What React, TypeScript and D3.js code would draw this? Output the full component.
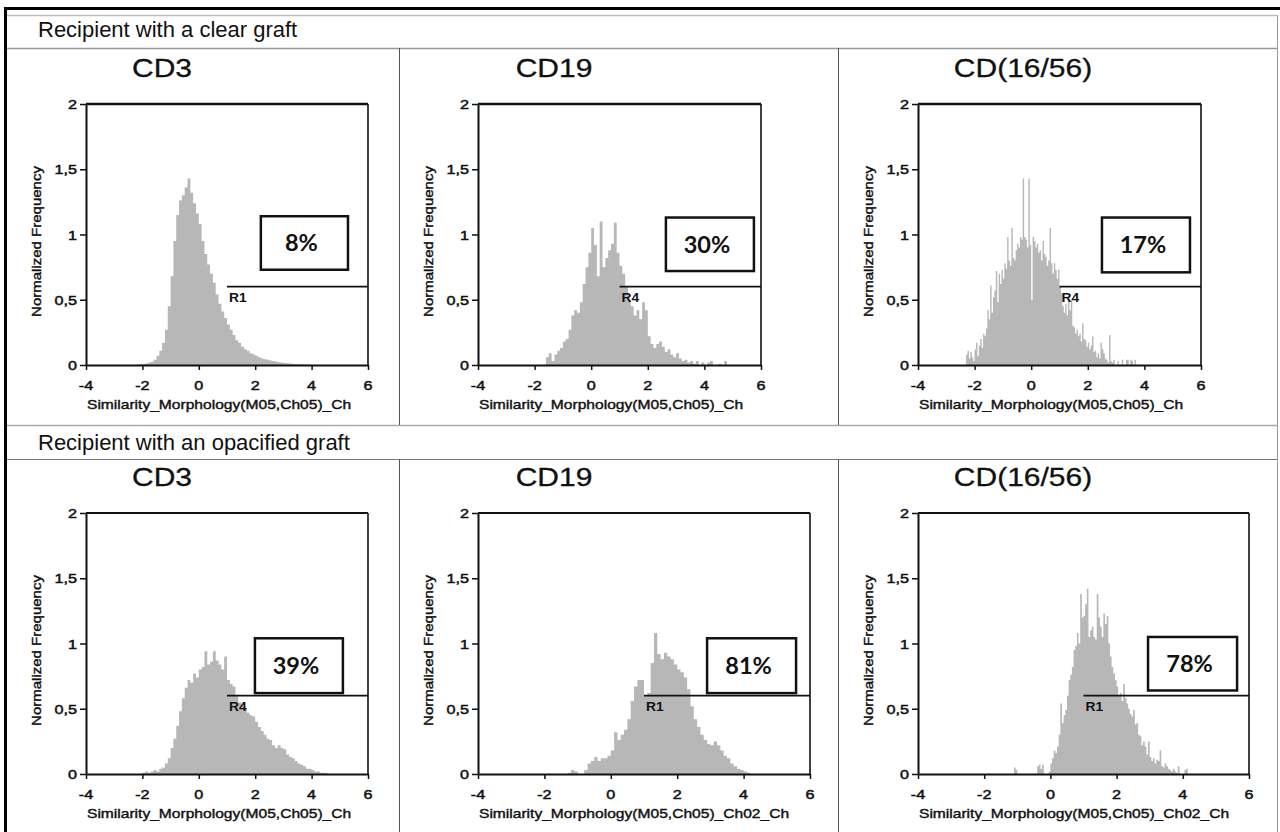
import { useEffect, useRef } from 'react'
import * as d3 from 'd3'

// normalized frequency per bin
const clearCd3Start = -2.2
const clearCd3Bin = 0.1
const clearCd3 = [0.003, 0.005, 0.008, 0.012, 0.018, 0.025, 0.04, 0.07, 0.11, 0.17, 0.27, 0.45, 0.68, 0.95, 1.15, 1.26, 1.3, 1.36, 1.43, 1.32, 1.24, 1.16, 1.08, 0.95, 0.85, 0.77, 0.7, 0.63, 0.54, 0.47, 0.41, 0.36, 0.31, 0.27, 0.23, 0.19, 0.17, 0.14, 0.12, 0.11, 0.09, 0.08, 0.07, 0.06, 0.05, 0.045, 0.04, 0.035, 0.03, 0.026, 0.022, 0.019, 0.016, 0.013, 0.011, 0.009, 0.007, 0.006, 0.005, 0.004, 0.003, 0.002, 0.002]

const clearCd19Start = -1.7
const clearCd19Bin = 0.1
const clearCd19 = [0, 0.06, 0.09, 0.03, 0.08, 0.11, 0.13, 0.18, 0.2, 0.27, 0.38, 0.42, 0.4, 0.48, 0.62, 0.75, 0.86, 1.05, 0.92, 0.68, 1.1, 0.75, 0.82, 0.88, 0.93, 1.09, 0.86, 0.76, 0.7, 0.6, 0.5, 0.45, 0.38, 0.42, 0.35, 0.48, 0.42, 0.22, 0.16, 0.13, 0.16, 0.18, 0.14, 0.1, 0.12, 0.08, 0.06, 0.09, 0.05, 0.03, 0.04, 0.02, 0.03, 0.01, 0.03, 0, 0.02, 0, 0.02, 0.03, 0, 0, 0.01, 0, 0.03]

const clearCd16Start = -2.3
const clearCd16Bin = 0.05
const clearCd16 = [0.08, 0.11, 0.05, 0.1, 0.06, 0.03, 0.12, 0.17, 0.07, 0.15, 0.2, 0.13, 0.24, 0.22, 0.28, 0.42, 0.35, 0.61, 0.4, 0.52, 0.57, 0.72, 0.48, 0.7, 0.62, 0.73, 0.66, 0.78, 0.74, 0.98, 0.8, 0.76, 1.05, 0.82, 0.8, 0.88, 0.93, 0.9, 0.98, 0.96, 1.43, 0.98, 0.96, 0.9, 1.43, 0.92, 0.5, 0.98, 0.95, 0.9, 0.93, 0.86, 0.88, 0.8, 0.95, 0.85, 0.83, 0.76, 0.8, 1.05, 0.78, 0.7, 0.78, 0.73, 0.66, 0.73, 0.6, 0.55, 0.45, 0.4, 0.47, 0.38, 0.5, 0.42, 0.5, 0.3, 0.29, 0.24, 0.27, 0.22, 0.24, 0.18, 0.32, 0.2, 0.19, 0.14, 0.17, 0.12, 0.15, 0.22, 0.1, 0.11, 0.06, 0.09, 0.05, 0.17, 0.12, 0.09, 0.05, 0.04, 0.02, 0.23, 0.03, 0.02, 0.04, 0, 0, 0.03, 0, 0, 0.04, 0, 0, 0.04, 0.04, 0, 0.04, 0.03, 0, 0.04, 0, 0]

const opaqueCd3Start = -2.0
const opaqueCd3Bin = 0.1
const opaqueCd3 = [0.01, 0.02, 0.01, 0.02, 0.03, 0.02, 0.04, 0.05, 0.08, 0.12, 0.2, 0.27, 0.37, 0.48, 0.58, 0.66, 0.72, 0.7, 0.77, 0.74, 0.8, 0.82, 0.94, 0.84, 0.86, 0.94, 0.87, 0.84, 0.8, 0.9, 0.72, 0.69, 0.67, 0.6, 0.55, 0.53, 0.5, 0.47, 0.45, 0.44, 0.4, 0.36, 0.33, 0.3, 0.27, 0.26, 0.22, 0.2, 0.22, 0.2, 0.19, 0.15, 0.13, 0.12, 0.1, 0.08, 0.07, 0.06, 0.04, 0.04, 0.03, 0.02, 0.02, 0.01, 0.01, 0.005]

const opaqueCd19Start = -1.3
const opaqueCd19Bin = 0.1
const opaqueCd19 = [0.01, 0.03, 0.02, 0, 0, 0.03, 0.08, 0.1, 0.13, 0.1, 0.12, 0.12, 0.14, 0.18, 0.32, 0.26, 0.3, 0.34, 0.42, 0.56, 0.67, 0.72, 0.72, 0.6, 0.62, 0.85, 1.08, 0.92, 0.88, 0.93, 0.9, 0.88, 0.84, 0.8, 0.78, 0.74, 0.65, 0.52, 0.42, 0.36, 0.3, 0.26, 0.23, 0.22, 0.25, 0.22, 0.18, 0.14, 0.12, 0.08, 0.06, 0.04, 0.03, 0.02, 0.01]

const opaqueCd16Start = -1.1
const opaqueCd16Bin = 0.05
const opaqueCd16 = [0.05, 0.03, 0, 0, 0, 0, 0, 0, 0, 0, 0, 0, 0, 0, 0.06, 0.07, 0.04, 0.07, 0, 0, 0, 0.02, 0.08, 0.12, 0.18, 0.16, 0.21, 0.3, 0.54, 0.39, 0.45, 0.49, 0.6, 0.72, 0.76, 0.82, 0.95, 0.98, 1.08, 1.0, 1.38, 1.2, 1.21, 1.3, 1.42, 1.05, 1.1, 1.13, 1.05, 1.03, 1.38, 1.2, 1.13, 1.05, 1.23, 1.15, 1.21, 1.0, 0.9, 0.82, 0.77, 0.72, 0.67, 0.6, 0.62, 0.56, 0.69, 0.58, 0.54, 0.5, 0.46, 0.44, 0.49, 0.38, 0.39, 0.3, 0.29, 0.22, 0.25, 0.21, 0.15, 0.25, 0.13, 0.1, 0.12, 0.08, 0.11, 0.1, 0.18, 0.06, 0.05, 0.08, 0.06, 0.04, 0.03, 0.02, 0.04, 0.02, 0.01, 0.06, 0, 0, 0, 0.03, 0.04]

const rowTitles = ['Recipient with a clear graft', 'Recipient with an opacified graft']
const markers = ['CD3', 'CD19', 'CD(16/56)', 'CD3', 'CD19', 'CD(16/56)']
const percents = ['8%', '30%', '17%', '39%', '81%', '78%']
const gateNames = ['R1', 'R4', 'R4', 'R4', 'R1', 'R1']
const xLabels = [
  'Similarity_Morphology(M05,Ch05)_Ch',
  'Similarity_Morphology(M05,Ch05)_Ch',
  'Similarity_Morphology(M05,Ch05)_Ch',
  'Similarity_Morphology(M05,Ch05)_Ch',
  'Similarity_Morphology(M05,Ch05)_Ch02_Ch',
  'Similarity_Morphology(M05,Ch05)_Ch02_Ch',
]
const yLabel = 'Normalized Frequency'
const xTicks = [-4, -2, 0, 2, 4, 6]
const yTicks = [0, 0.5, 1, 1.5, 2]
const gate = { from: 1, to: 6, level: 0.6 }

const series = [
  { start: clearCd3Start, bin: clearCd3Bin, values: clearCd3 },
  { start: clearCd19Start, bin: clearCd19Bin, values: clearCd19 },
  { start: clearCd16Start, bin: clearCd16Bin, values: clearCd16 },
  { start: opaqueCd3Start, bin: opaqueCd3Bin, values: opaqueCd3 },
  { start: opaqueCd19Start, bin: opaqueCd19Bin, values: opaqueCd19 },
  { start: opaqueCd16Start, bin: opaqueCd16Bin, values: opaqueCd16 },
]

// layout (pixels) and annotation boxes (data units: x0, x1, y0, y1)
const COLS = [
  [[86, 368], [478, 761], [918, 1201]],
  [[86, 368], [478, 810], [918, 1249]],
]
const ROWS = [
  { top: 104, bottom: 365, titleY: 77, headerY: 37 },
  { top: 513, bottom: 774, titleY: 486, headerY: 450 },
]
const TITLE_X = [162, 554, 1023]
const BOXES = [
  [2.2, 5.29, 0.73, 1.14], [2.64, 5.75, 0.72, 1.13], [2.5, 5.61, 0.71, 1.13],
  [1.99, 5.11, 0.62, 1.04], [2.9, 5.58, 0.62, 1.04], [2.95, 5.64, 0.64, 1.05],
]

const SX = 1.2
const FONT = '"Liberation Sans", Arial, sans-serif'
const INK = '#111'

export default function App() {
  const svgRef = useRef<SVGSVGElement>(null)

  useEffect(() => {
    if (!svgRef.current) return
    const svg = d3.select(svgRef.current)
    svg.selectAll('*').remove()

    svg.append('rect').attr('width', 1280).attr('height', 832).attr('fill', '#fff')

    // table frame
    const frame = svg.append('g').attr('fill', 'none')
    const ln = (x1: number, y1: number, x2: number, y2: number, c: string, w: number) =>
      frame.append('line').attr('x1', x1).attr('y1', y1).attr('x2', x2).attr('y2', y2)
        .attr('stroke', c).attr('stroke-width', w)
    ln(7, 15.5, 1277, 15.5, '#bbb', 1.5)
    ln(1277.5, 15, 1277.5, 832, '#999', 1)
    ln(7, 48.5, 1277, 48.5, '#999', 1.5)
    ln(7, 425.5, 1277, 425.5, '#aaa', 1.5)
    ln(7, 459.5, 1277, 459.5, '#777', 1)
    ;[399.5, 838.5].forEach(x => {
      ln(x, 48, x, 425, '#555', 1)
      ln(x, 459, x, 832, '#555', 1)
    })
    ln(4, 8.5, 1280, 8.5, '#000', 3)
    ln(5.5, 7, 5.5, 832, '#000', 3)

    rowTitles.forEach((t, r) => {
      svg.append('text').attr('x', 38).attr('y', ROWS[r].headerY)
        .attr('font-family', FONT).attr('font-size', 22).attr('fill', INK).text(t)
    })

    const stretched = (g: any, x: number, y: number, str: string, size: number, anchor: string, extra = '') =>
      g.append('text')
        .attr('transform', `translate(${x},${y})${extra} scale(${SX},1)`)
        .attr('text-anchor', anchor)
        .attr('font-family', FONT).attr('font-size', size).attr('fill', INK)
        .text(str)

    series.forEach((s, i) => {
      const r = Math.floor(i / 3)
      const c = i % 3
      const [left, right] = COLS[r][c]
      const { top, bottom, titleY } = ROWS[r]
      const x = d3.scaleLinear().domain([-4, 6]).range([left, right])
      const y = d3.scaleLinear().domain([0, 2]).range([bottom, top])
      const g = svg.append('g')

      stretched(g, TITLE_X[c], titleY, markers[i], 25, 'middle')
        .attr('stroke', INK).attr('stroke-width', 0.3)

      const pts = s.values.map((v, k) => ({ x: s.start + k * s.bin, v }))
      pts.push({ x: s.start + s.values.length * s.bin, v: 0 })
      const area = d3.area<{ x: number; v: number }>()
        .x(d => x(d.x)).y0(y(0)).y1(d => y(d.v))
        .curve(d3.curveStepAfter)
      g.append('path').datum(pts).attr('d', area).attr('fill', '#b7b7b7')

      // frame top & right
      g.append('line').attr('x1', left).attr('x2', right).attr('y1', top).attr('y2', top)
        .attr('stroke', INK).attr('stroke-width', r === 0 ? 2.5 : 2)
      g.append('line').attr('x1', right).attr('x2', right).attr('y1', top).attr('y2', bottom)
        .attr('stroke', INK).attr('stroke-width', 1.6)

      g.append('g').attr('transform', `translate(${left},0)`)
        .call(d3.axisLeft(y).tickValues(yTicks).tickSize(6).tickSizeOuter(0).tickFormat(() => ''))
        .call(ax => {
          ax.select('.domain').attr('stroke', INK).attr('stroke-width', 2)
          ax.selectAll('line').attr('stroke', INK).attr('stroke-width', 1.5)
        })
      g.append('g').attr('transform', `translate(0,${bottom})`)
        .call(d3.axisBottom(x).tickValues(xTicks).tickSize(5).tickSizeOuter(0).tickFormat(() => ''))
        .call(ax => {
          ax.select('.domain').attr('stroke', INK).attr('stroke-width', 2)
          ax.selectAll('line').attr('stroke', INK).attr('stroke-width', 1.5)
        })

      yTicks.forEach(t => {
        stretched(g, left - 9, y(t) + 5, String(t).replace('.', ','), 13.5, 'end')
          .attr('stroke', INK).attr('stroke-width', 0.5)
      })
      xTicks.forEach(t => {
        stretched(g, x(t), bottom + 24.5, String(t), 13.5, 'middle')
          .attr('stroke', INK).attr('stroke-width', 0.5)
      })

      stretched(g, left - 45, (top + bottom) / 2 + 7, yLabel, 12.5, 'middle', ' rotate(-90)')
        .attr('stroke', INK).attr('stroke-width', 0.4)
      stretched(g, left + 1, bottom + 44, xLabels[i], 13, 'start')
        .attr('stroke', INK).attr('stroke-width', 0.4)

      // gate
      g.append('line').attr('x1', x(gate.from)).attr('x2', x(gate.to))
        .attr('y1', y(gate.level)).attr('y2', y(gate.level))
        .attr('stroke', INK).attr('stroke-width', 1.8)
      g.append('text')
        .attr('transform', `translate(${x(gate.from) + 2},${y(gate.level) + 15}) scale(1.15,1)`)
        .attr('font-family', FONT).attr('font-size', 12).attr('font-weight', 'bold').attr('fill', INK)
        .text(gateNames[i])

      // percentage box
      const [b0, b1, b2, b3] = BOXES[i]
      g.append('rect').attr('x', x(b0)).attr('y', y(b3))
        .attr('width', x(b1) - x(b0)).attr('height', y(b2) - y(b3))
        .attr('fill', '#fff').attr('stroke', INK).attr('stroke-width', 2.5)
      g.append('text').attr('x', (x(b0) + x(b1)) / 2 - 3).attr('y', (y(b2) + y(b3)) / 2 + 8.5)
        .attr('text-anchor', 'middle').attr('font-family', 'Lato, "Open Sans", sans-serif')
        .attr('font-weight', 'bold').attr('font-size', 23.5).attr('fill', INK)
        .text(percents[i])
    })
  }, [])

  return (
    <div style={{ position: 'absolute', left: 0, top: 0, width: 1280, height: 832, background: '#fff' }}>
      <svg ref={svgRef} width={1280} height={832} style={{ display: 'block' }} />
    </div>
  )
}
